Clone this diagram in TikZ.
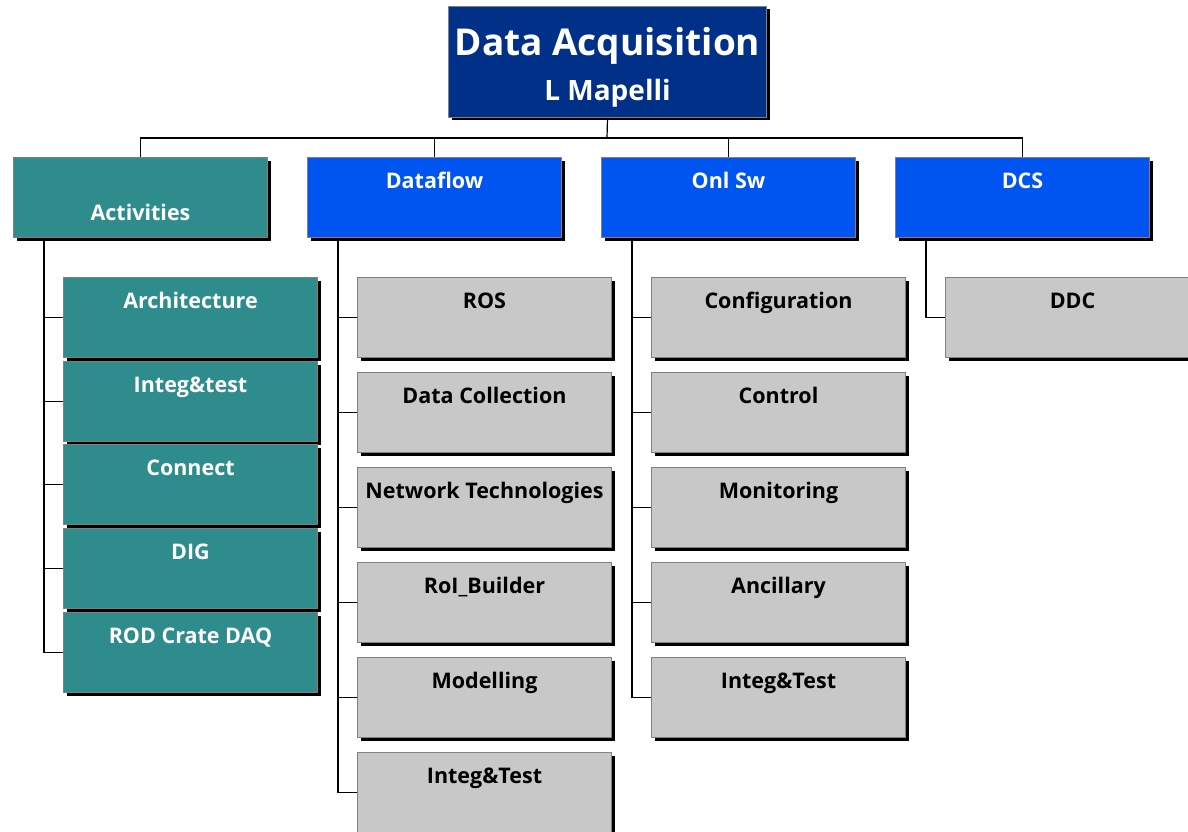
\documentclass[tikz,border=0pt]{standalone}
\usepackage{fontspec}
\setmainfont{Open Sans}
\usetikzlibrary{shadows}
\definecolor{navybox}{RGB}{0,48,135}
\definecolor{bluebox}{RGB}{0,85,240}
\definecolor{tealbox}{RGB}{47,140,140}
\definecolor{greybox}{RGB}{200,200,200}
\definecolor{rimgrey}{RGB}{128,128,128}

\begin{document}
\begin{tikzpicture}[x=1pt,y=-1pt,
    shadowed/.style={draw=rimgrey,line width=1pt,anchor=north west,
      drop shadow={shadow xshift=3pt,shadow yshift=-3pt,fill=black,opacity=1}},
    box/.style={shadowed,minimum width=254pt,inner sep=0pt,text height=31pt,text depth=49pt,
      font=\bfseries\fontsize{21.5}{24}\selectfont},
    topbox/.style={shadowed,fill=navybox,text=white,minimum width=318pt,minimum height=111pt,
      align=center,font=\bfseries\fontsize{37}{42}\selectfont},
    headbox/.style={box,fill=bluebox,text=white},
    actbox/.style={box,fill=tealbox,text=white},
    leafbox/.style={box,fill=greybox,text=black},
    link/.style={line width=1.2pt}]
  \useasboundingbox (0,0) rectangle (1188,832);

  % top of the tree
  \node[topbox] (daq) at (448,6)
    {\rule{0pt}{38pt}Data Acquisition\\[3pt]{\fontsize{28}{32}\selectfont L Mapelli}};

  % second level
  \node[actbox,text height=63pt,text depth=17pt] (acts) at (13,157) {Activities};
  \node[headbox] (dflow) at (307,157) {Dataflow};
  \node[headbox] (onl) at (601,157) {Onl Sw};
  \node[headbox] (dcs) at (895,157) {DCS};

  % activities
  \node[actbox] (arch) at (63,277) {Architecture};
  \node[actbox] (intega) at (63,361) {Integ\&test};
  \node[actbox] (conn) at (63,444) {Connect};
  \node[actbox] (dig) at (63,528) {DIG};
  \node[actbox] (rod) at (63,612) {ROD Crate DAQ};

  % dataflow
  \node[leafbox] (ros) at (357,277) {ROS};
  \node[leafbox] (dcoll) at (357,372) {Data Collection};
  \node[leafbox] (net) at (357,467) {Network Technologies};
  \node[leafbox] (roib) at (357,562) {RoI\_Builder};
  \node[leafbox] (model) at (357,657) {Modelling};
  \node[leafbox] (integd) at (357,752) {Integ\&Test};

  % online software
  \node[leafbox] (conf) at (651,277) {Configuration};
  \node[leafbox] (ctrl) at (651,372) {Control};
  \node[leafbox] (mon) at (651,467) {Monitoring};
  \node[leafbox] (anc) at (651,562) {Ancillary};
  \node[leafbox] (intego) at (651,657) {Integ\&Test};

  % dcs
  \node[leafbox] (ddc) at (945,277) {DDC};

  \coordinate (bus) at (607,138);
  \draw[link] (daq.south) -- (bus);
  \draw[link] (bus) -| (acts.north);
  \draw[link] (bus) -| (dflow.north);
  \draw[link] (bus) -| (onl.north);
  \draw[link] (bus) -| (dcs.north);

  \draw[link] ([xshift=31pt]acts.south west) |- (arch.west);
  \draw[link] ([xshift=31pt]acts.south west) |- (intega.west);
  \draw[link] ([xshift=31pt]acts.south west) |- (conn.west);
  \draw[link] ([xshift=31pt]acts.south west) |- (dig.west);
  \draw[link] ([xshift=31pt]acts.south west) |- (rod.west);

  \draw[link] ([xshift=31pt]dflow.south west) |- (ros.west);
  \draw[link] ([xshift=31pt]dflow.south west) |- (dcoll.west);
  \draw[link] ([xshift=31pt]dflow.south west) |- (net.west);
  \draw[link] ([xshift=31pt]dflow.south west) |- (roib.west);
  \draw[link] ([xshift=31pt]dflow.south west) |- (model.west);
  \draw[link] ([xshift=31pt]dflow.south west) |- (integd.west);

  \draw[link] ([xshift=31pt]onl.south west) |- (conf.west);
  \draw[link] ([xshift=31pt]onl.south west) |- (ctrl.west);
  \draw[link] ([xshift=31pt]onl.south west) |- (mon.west);
  \draw[link] ([xshift=31pt]onl.south west) |- (anc.west);
  \draw[link] ([xshift=31pt]onl.south west) |- (intego.west);

  \draw[link] ([xshift=31pt]dcs.south west) |- (ddc.west);
\end{tikzpicture}
\end{document}
